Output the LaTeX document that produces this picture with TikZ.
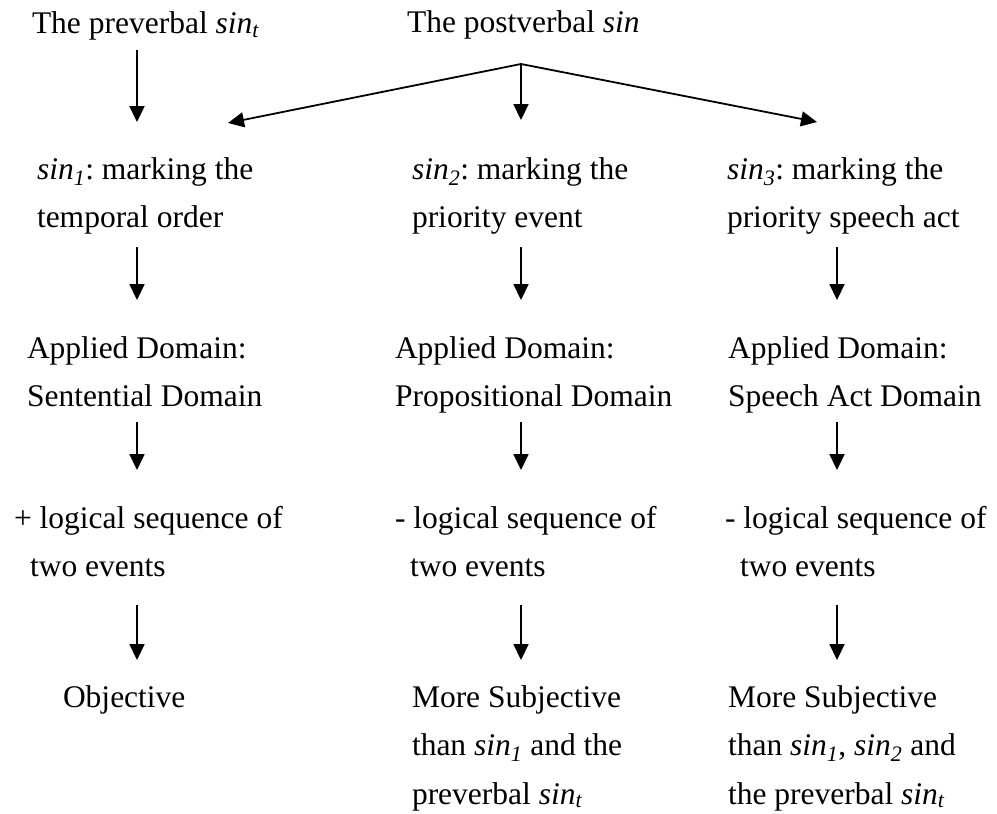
\documentclass[tikz,border=0pt]{standalone}
\usepackage{fontspec}
\setmainfont{Liberation Serif}
\usetikzlibrary{arrows.meta}

% italic "sin" with an italic subscript
\newcommand{\sinof}[1]{\textit{sin}\textsubscript{\textit{#1}}}
% a left-aligned block whose baseline is that of its first line
\newcommand{\blk}[1]{\begin{tabular}[t]{@{}l@{}}#1\end{tabular}}

\begin{document}
\frenchspacing
\begin{tikzpicture}[x=1bp,y=-1bp,
  txt/.style={anchor=base west, inner sep=0pt, outer sep=0pt,
              font=\fontsize{31.5bp}{48.5bp}\selectfont},
  arr/.style={line width=1.8bp, -{Triangle[length=16bp,width=15bp]}}]

\useasboundingbox (0,0) rectangle (997,814);

% column axes of the vertical arrows
\coordinate (c1) at (137,0);
\coordinate (c2) at (521,0);
\coordinate (c3) at (837,0);

% top row
\node[txt] (pre)  at (32,34) {\blk{The preverbal \sinof{t}}};
\node[txt] (post) at (407,33) {\blk{The postverbal \textit{sin}}};

% the three readings of sin
\node[txt] (m1) at (37,179)  {\blk{\sinof{1}: marking the\\temporal order}};
\node[txt] (m2) at (412,179) {\blk{\sinof{2}: marking the\\priority event}};
\node[txt] (m3) at (727,179) {\blk{\sinof{3}: marking the\\priority speech act}};

% applied domains
\node[txt] (d1) at (27,358)  {\blk{Applied Domain:\\Sentential Domain}};
\node[txt] (d2) at (395,358) {\blk{Applied Domain:\\Propositional Domain}};
\node[txt] (d3) at (728,358) {\blk{Applied Domain:\\Speech Act Domain}};

% logical sequence
\node[txt] (l1) at (14,528)  {\blk{+ logical sequence of\\\hspace*{16bp}two events}};
\node[txt] (l2) at (395,528) {\blk{- logical sequence of\\\hspace*{15bp}two events}};
\node[txt] (l3) at (725,528) {\blk{- logical sequence of\\\hspace*{15bp}two events}};

% subjectivity
\node[txt] (s1) at (63,707)  {\blk{Objective}};
\node[txt] (s2) at (412,707) {\blk{More Subjective\\than \sinof{1} and the\\preverbal \sinof{t}}};
\node[txt] (s3) at (728,707) {\blk{More Subjective\\than \sinof{1}, \sinof{2} and\\the preverbal \sinof{t}}};

% branching of the postverbal sin
\coordinate (j)    at (521,64);
\coordinate (tipL) at (228,123);
\coordinate (tipR) at (817,122);
\draw[line width=1.8bp, {Triangle[length=16bp,width=15bp]}-{Triangle[length=16bp,width=15bp]}]
  (tipL) -- (j) -- (tipR);
\draw[arr, shorten >=25bp] (j) -- (m2.north -| c2);

% preverbal sin
\draw[arr, shorten <=1.5bp, shorten >=23bp] (pre.south -| c1) -- (m1.north -| c1);

% readings -> domains
\draw[arr, shorten <=5bp, shorten >=24bp] (m1.south -| c1) -- (d1.north -| c1);
\draw[arr, shorten <=5bp, shorten >=24bp] (m2.south -| c2) -- (d2.north -| c2);
\draw[arr, shorten <=5bp, shorten >=24bp] (m3.south -| c3) -- (d3.north -| c3);

% domains -> logical sequence
\draw[arr, shorten <=1bp, shorten >=24bp] (d1.south -| c1) -- (l1.north -| c1);
\draw[arr, shorten <=1bp, shorten >=24bp] (d2.south -| c2) -- (l2.north -| c2);
\draw[arr, shorten <=1bp, shorten >=24bp] (d3.south -| c3) -- (l3.north -| c3);

% logical sequence -> subjectivity
\draw[arr, shorten <=14bp, shorten >=13bp] (l1.south -| c1) -- (s1.north -| c1);
\draw[arr, shorten <=14bp, shorten >=13bp] (l2.south -| c2) -- (s2.north -| c2);
\draw[arr, shorten <=14bp, shorten >=13bp] (l3.south -| c3) -- (s3.north -| c3);

\end{tikzpicture}
\end{document}
